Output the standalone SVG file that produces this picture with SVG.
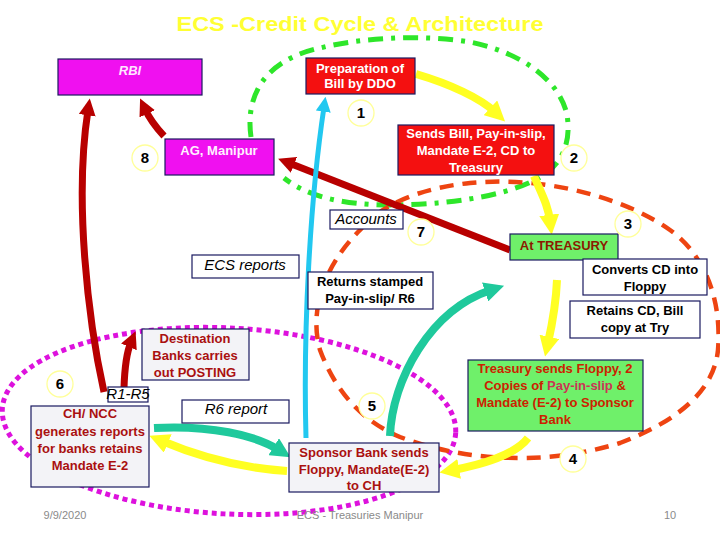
<svg xmlns="http://www.w3.org/2000/svg" width="720" height="540" viewBox="0 0 720 540">
<style>
.t{font-family:"Liberation Sans",Arial,sans-serif;font-weight:bold;font-size:13px;text-anchor:middle}
.it{font-family:"Liberation Sans",Arial,sans-serif;font-style:italic;font-size:15px;text-anchor:middle;fill:#000}
.box{stroke:#1a1a60;stroke-width:1.2}
.wb{fill:#fff}
.gb{fill:#f3f3f7}
.mg{fill:#f010f0}
.rd{fill:#f41010}
.gr{fill:#6ff06a}
.dr{fill:#aa1010}
.num circle{fill:#fff;stroke:#ffff99;stroke-width:1.3}
.num text{font-family:"Liberation Sans",Arial,sans-serif;font-weight:bold;font-size:15px;text-anchor:middle;fill:#000}
.foot{font-family:"Liberation Sans",Arial,sans-serif;font-size:11px;fill:#8a8a8a}
.c{fill:none}
</style>
<defs>
<marker id="aR" viewBox="0 0 16 16" refX="5" refY="8" markerWidth="17" markerHeight="17" markerUnits="userSpaceOnUse" orient="auto"><path d="M0,0 L16,8 L0,16 z" fill="#b80000"/></marker>
<marker id="aY" viewBox="0 0 16 16" refX="5" refY="8" markerWidth="20" markerHeight="20" markerUnits="userSpaceOnUse" orient="auto"><path d="M0,0 L16,8 L0,16 z" fill="#ffff22"/></marker>
<marker id="aC" viewBox="0 0 16 16" refX="5" refY="8" markerWidth="15" markerHeight="15" markerUnits="userSpaceOnUse" orient="auto"><path d="M0,0 L16,8 L0,16 z" fill="#22c8f0"/></marker>
<marker id="aT" viewBox="0 0 16 16" refX="5" refY="8" markerWidth="20" markerHeight="20" markerUnits="userSpaceOnUse" orient="auto"><path d="M0,0 L16,8 L0,16 z" fill="#1fc99c"/></marker>
</defs>
<rect width="720" height="540" fill="#fff"/>
<text x="360" y="31" font-family="'Liberation Sans',Arial,sans-serif" font-weight="bold" font-size="21" fill="#ffff33" text-anchor="middle" textLength="367" lengthAdjust="spacingAndGlyphs">ECS -Credit Cycle &amp; Architecture</text>

<g id="connectors">
<ellipse cx="229" cy="421" rx="227" ry="93" transform="rotate(3 229 421)" class="c" stroke="#dd11dd" stroke-width="5" stroke-dasharray="5 4"/>
<path class="c" d="M251,137 C245,95 265,60 320,48 C360,38 420,34 470,42 C520,52 560,80 567,115 C572,145 560,168 535,180 C500,198 440,205 390,205 C340,205 305,195 284,178" stroke="#2ee62a" stroke-width="5" stroke-dasharray="15 8 4 8"/>
<path class="c" d="M360,230 C380,205 420,188 470,183 C540,176 620,195 670,230 C705,255 722,300 718,350 C714,390 680,420 620,443 C590,452 560,458 520,458 C480,458 440,452 400,437 C360,420 335,390 320,350 C310,315 320,270 360,230 Z" stroke="#ee4411" stroke-width="4.5" stroke-dasharray="14 9"/>
<path class="c" d="M104,392 C88,320 74,200 88,110" stroke="#b80000" stroke-width="7" marker-end="url(#aR)"/>
<path class="c" d="M164,136 Q151,122 145,109" stroke="#b80000" stroke-width="7" marker-end="url(#aR)"/>
<path class="c" d="M124,388 Q125,356 131,342" stroke="#b80000" stroke-width="7" marker-end="url(#aR)"/>
<path class="c" d="M510,250 L289,163" stroke="#b80000" stroke-width="7" marker-end="url(#aR)"/>
<path class="c" d="M306,438 C303,330 310,200 324,107" stroke="#22c8f0" stroke-width="5" marker-end="url(#aC)"/>
<path class="c" d="M416,74 C450,84 480,98 495,112" stroke="#ffff22" stroke-width="8" marker-end="url(#aY)"/>
<path class="c" d="M534,176 C542,195 548,205 550,221" stroke="#ffff22" stroke-width="8" marker-end="url(#aY)"/>
<path class="c" d="M557,280 C556,305 552,325 548,343" stroke="#ffff22" stroke-width="8" marker-end="url(#aY)"/>
<path class="c" d="M528,438 C515,455 480,465 453,470" stroke="#ffff22" stroke-width="8" marker-end="url(#aY)"/>
<path class="c" d="M287,471 C240,468 195,455 162,441" stroke="#ffff22" stroke-width="8" marker-end="url(#aY)"/>
<path class="c" d="M154,428 C210,425 255,435 279,450" stroke="#1fc99c" stroke-width="8" marker-end="url(#aT)"/>
<path class="c" d="M390,436 C392,380 430,310 491,290" stroke="#1fc99c" stroke-width="8" marker-end="url(#aT)"/>
</g>

<g id="rbi"><rect class="box mg" x="58" y="59" width="144" height="36"/><text class="t" x="130" y="75" fill="#ffe6ff" font-style="italic" font-weight="normal">RBI</text></g>
<g id="ag"><rect class="box mg" x="165" y="139" width="109" height="36"/><text class="t" x="219" y="155" fill="#fff0ff" font-weight="normal" font-size="14">AG, Manipur</text></g>
<g id="prep"><rect class="box rd" x="306" y="58" width="109" height="36"/><text class="t" x="360" y="73" fill="#fff">Preparation of</text><text class="t" x="360" y="88" fill="#fff">Bill by DDO</text></g>
<g id="sends"><rect class="box rd" x="398" y="125" width="156" height="50"/><text class="t" x="476" y="138" fill="#fff">Sends Bill, Pay-in-slip,</text><text class="t" x="476" y="155" fill="#fff">Mandate E-2, CD to</text><text class="t" x="476" y="172" fill="#fff">Treasury</text></g>
<g id="accounts"><rect class="box wb" x="330" y="210" width="73" height="19"/><text class="it" x="366" y="224">Accounts</text></g>
<g id="ecsreports"><rect class="box wb" x="192" y="255" width="107" height="23"/><text class="it" x="245" y="270">ECS reports</text></g>
<g id="returns"><rect class="box wb" x="308" y="272" width="125" height="37"/><text class="t" x="370" y="286" fill="#000">Returns stamped</text><text class="t" x="370" y="303" fill="#000">Pay-in-slip/ R6</text></g>
<g id="treasury"><rect class="box gr" x="510" y="234" width="108" height="26"/><text class="t" x="564" y="250" fill="#8b1a00" font-size="14">At TREASURY</text></g>
<g id="converts"><rect class="box wb" x="583" y="259" width="124" height="36"/><text class="t" x="645" y="274" fill="#000">Converts CD into</text><text class="t" x="645" y="291" fill="#000">Floppy</text></g>
<g id="retains"><rect class="box wb" x="570" y="301" width="130" height="37"/><text class="t" x="635" y="315" fill="#000">Retains CD, Bill</text><text class="t" x="635" y="332" fill="#000">copy at Try</text></g>
<g id="tsends"><rect class="box gr" x="468" y="360" width="175" height="71"/><text class="t" x="555" y="373" fill="#cc2200">Treasury sends Floppy, 2</text><text class="t" x="555" y="390" fill="#cc2200">Copies of <tspan fill="#cc3355">Pay-in-slip</tspan> &amp;</text><text class="t" x="555" y="407" fill="#cc2200">Mandate (E-2) to Sponsor</text><text class="t" x="555" y="424" fill="#cc2200">Bank</text></g>
<g id="sponsor"><rect class="box gb" x="289" y="443" width="150" height="49"/><text class="t dr" x="364" y="457">Sponsor Bank sends</text><text class="t dr" x="364" y="474">Floppy, Mandate(E-2)</text><text class="t dr" x="364" y="490">to CH</text></g>
<g id="r6"><rect class="box wb" x="182" y="400" width="107" height="23"/><text class="it" x="236" y="414">R6  report</text></g>
<g id="destination"><rect class="box gb" x="142" y="329" width="107" height="51"/><text class="t dr" x="195" y="343">Destination</text><text class="t dr" x="195" y="360">Banks carries</text><text class="t dr" x="195" y="377">out POSTING</text></g>
<g id="r1r5"><rect class="box wb" x="108" y="387" width="40" height="15"/><text class="it" x="128" y="399" font-size="13">R1-R5</text></g>
<g id="chncc"><rect class="box gb" x="31" y="406" width="118" height="81"/><text class="t dr" x="90" y="418">CH/ NCC</text><text class="t dr" x="90" y="436">generates reports</text><text class="t dr" x="90" y="453">for banks retains</text><text class="t dr" x="90" y="470">Mandate E-2</text></g>

<g id="n1" class="num"><circle cx="361" cy="113" r="13"/><text x="361" y="118">1</text></g>
<g id="n2" class="num"><circle cx="574" cy="158" r="13"/><text x="574" y="163">2</text></g>
<g id="n3" class="num"><circle cx="628" cy="224" r="13"/><text x="628" y="229">3</text></g>
<g id="n4" class="num"><circle cx="573" cy="459" r="13"/><text x="573" y="464">4</text></g>
<g id="n5" class="num"><circle cx="372" cy="406" r="13"/><text x="372" y="411">5</text></g>
<g id="n6" class="num"><circle cx="60" cy="384" r="13"/><text x="60" y="389">6</text></g>
<g id="n7" class="num"><circle cx="421" cy="232" r="13"/><text x="421" y="237">7</text></g>
<g id="n8" class="num"><circle cx="145" cy="158" r="13"/><text x="145" y="163">8</text></g>

<text class="foot" x="65" y="519" text-anchor="middle">9/9/2020</text>
<text class="foot" x="360" y="519" text-anchor="middle">ECS - Treasuries Manipur</text>
<text class="foot" x="670" y="519" text-anchor="middle">10</text>
</svg>
